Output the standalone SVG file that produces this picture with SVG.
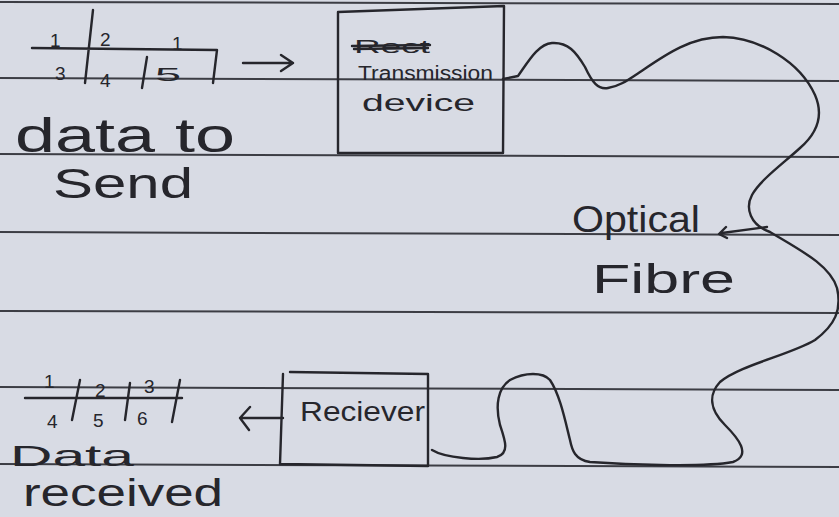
<svg xmlns="http://www.w3.org/2000/svg" width="839" height="517" viewBox="0 0 839 517">
<style>
.rule{stroke:#3c3d44;stroke-width:2;fill:none}
.ink{stroke:#26262c;stroke-width:2.4;fill:none;stroke-linecap:round;stroke-linejoin:round}
.txt{font-family:"Liberation Sans","DejaVu Sans",sans-serif;fill:#26262c}
.dig{font-family:"Liberation Sans","DejaVu Sans",sans-serif;fill:#26262c;font-size:19px}
</style>
<rect width="839" height="517" fill="#d8dbe4"/>
<g id="paper-lines">
<line class="rule" x1="0" y1="2" x2="839" y2="4"/>
<line class="rule" x1="0" y1="78" x2="839" y2="81"/>
<line class="rule" x1="0" y1="154" x2="839" y2="157"/>
<line class="rule" x1="0" y1="232" x2="839" y2="235"/>
<line class="rule" x1="0" y1="311" x2="839" y2="313"/>
<line class="rule" x1="0" y1="387" x2="839" y2="390"/>
<line class="rule" x1="0" y1="464" x2="839" y2="467"/>
</g>
<g id="data-to-send">
<path class="ink" d="M32,48 L217,50 L213,83 M93,10 L85,83 M147,57 L142,88"/>
<text class="dig" x="50" y="47">1</text>
<text class="dig" x="100" y="46">2</text>
<text class="dig" x="172" y="50">1</text>
<text class="dig" x="55" y="80">3</text>
<text class="dig" x="100" y="87">4</text>
<text class="dig" x="155" y="81" font-size="26" textLength="26" lengthAdjust="spacingAndGlyphs">5</text>
<text class="txt" x="15" y="152" font-size="48" textLength="220" lengthAdjust="spacingAndGlyphs">data to</text>
<text class="txt" x="53" y="198" font-size="42" textLength="140" lengthAdjust="spacingAndGlyphs">Send</text>
</g>
<g id="transmission-device">
<path class="ink" d="M338,12 L504,6 L503,153 L338,153 Z"/>
<text class="txt" x="354" y="53" font-size="18" textLength="76" lengthAdjust="spacingAndGlyphs">Rect</text>
<path class="ink" d="M352,46 L430,45 M354,49 L428,48" stroke-width="1.8"/>
<text class="txt" x="358" y="80" font-size="20" textLength="135" lengthAdjust="spacingAndGlyphs">Transmission</text>
<text class="txt" x="362" y="111" font-size="24" textLength="113" lengthAdjust="spacingAndGlyphs">device</text>
</g>
<g id="optical-fibre-label">
<text class="txt" x="572" y="232" font-size="36" textLength="128" lengthAdjust="spacingAndGlyphs">Optical</text>
<text class="txt" x="592" y="293" font-size="40" textLength="143" lengthAdjust="spacingAndGlyphs">Fibre</text>
</g>
<g id="receiver">
<path class="ink" d="M290,372 L428,374 L428,466 L280,464 L283,374"/>
<text class="txt" x="300" y="421" font-size="28" textLength="125" lengthAdjust="spacingAndGlyphs">Reciever</text>
</g>
<g id="data-received">
<path class="ink" d="M25,398 L182,398 M80,380 L72,420 M130,383 L125,420 M180,380 L172,422"/>
<text class="dig" x="44" y="388">1</text>
<text class="dig" x="95" y="397">2</text>
<text class="dig" x="144" y="393">3</text>
<text class="dig" x="47" y="428">4</text>
<text class="dig" x="93" y="427">5</text>
<text class="dig" x="137" y="425">6</text>
<text class="txt" x="10" y="466" font-size="30" textLength="124" lengthAdjust="spacingAndGlyphs">Data</text>
<text class="txt" x="23" y="506" font-size="38" textLength="200" lengthAdjust="spacingAndGlyphs">received</text>
</g>
<g id="connectors">
<path class="ink" d="M243,63 L293,63 M281,55 L293,63 L281,71"/>
<path class="ink" d="M283,418 L240,418 M250,407 L240,418 L249,430"/>
<path class="ink" d="M767,227 L722,233 M726,227 L719,234 L727,238"/>
<path class="ink" d="M503,79 L518,76 C528,62 538,44 552,43 C568,42 576,52 585,67 C592,82 598,90 608,88 C620,86 628,80 640,72 C665,55 690,37 723,37 C760,38 800,62 815,95 C825,118 815,135 800,148 C785,162 760,180 752,195 C745,208 750,225 770,232 C800,250 830,265 837,288 C842,310 835,325 815,340 C790,355 740,365 720,382 C708,395 710,410 725,425 C738,438 752,455 733,462 C700,468 620,464 590,462 C575,460 572,450 570,440 C565,420 560,395 550,380 C543,372 525,372 510,380 C498,388 495,405 500,425 C505,440 510,453 497,457 C480,461 445,458 432,450"/>
</g>
</svg>
